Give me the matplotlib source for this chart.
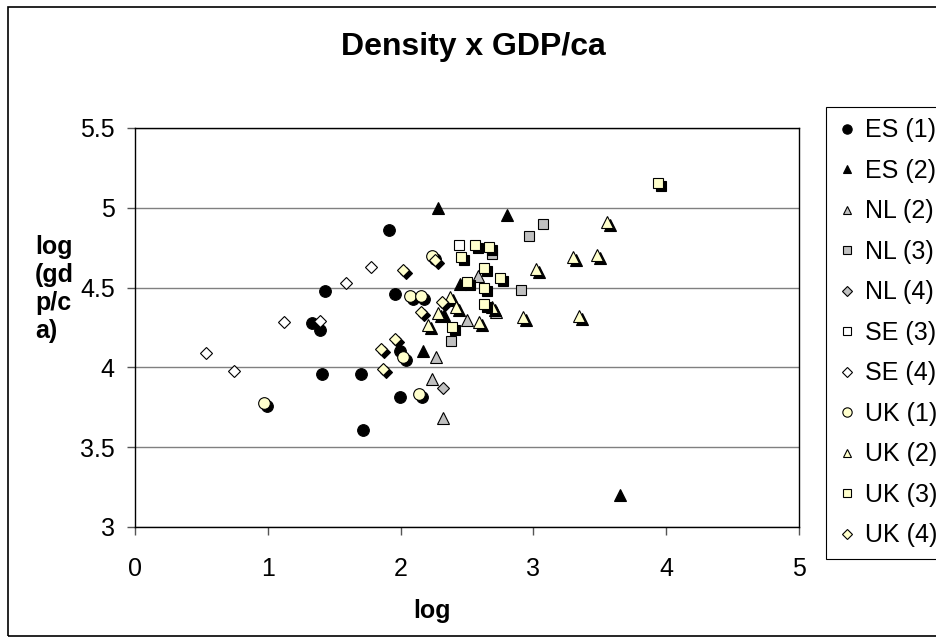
import matplotlib
matplotlib.use('Agg')
import matplotlib.pyplot as plt
from matplotlib.patches import Rectangle
from matplotlib.transforms import offset_copy

plt.rcParams['font.family'] = ['Liberation Sans', 'DejaVu Sans']

# --- data ---
es1_x = [1.91, 1.43, 1.96, 1.33, 1.39, 1.41, 1.70, 1.995, 1.995, 1.72]
es1_y = [4.86, 4.48, 4.46, 4.28, 4.234, 3.96, 3.96, 4.10, 3.816, 3.608]

es2_x = [2.28, 2.80, 2.45, 2.33, 2.17, 3.65]
es2_y = [5.00, 4.955, 4.52, 4.33, 4.105, 3.20]

nl2_x = [2.50, 2.585, 2.72, 2.27, 2.24, 2.32]
nl2_y = [4.30, 4.57, 4.35, 4.063, 3.925, 3.68]

nl3_x = [3.075, 2.97, 2.686, 2.905, 2.377]
nl3_y = [4.90, 4.823, 4.71, 4.485, 4.165]

nl4_x = [2.32]
nl4_y = [3.87]

se3_x = [2.44]
se3_y = [4.767]

se4_x = [0.532, 0.745, 1.124, 1.39, 1.587, 1.78]
se4_y = [4.088, 3.979, 4.286, 4.29, 4.527, 4.627]

uk1_x = [0.97, 2.07, 2.15, 2.02, 2.14, 2.24]
uk1_y = [3.775, 4.45, 4.45, 4.067, 3.835, 4.70]

uk2_x = [2.37, 2.417, 2.284, 2.21, 2.59, 2.686, 2.924, 3.02, 3.296, 3.476, 3.557, 3.346]
uk2_y = [4.443, 4.38, 4.34, 4.265, 4.286, 4.38, 4.318, 4.614, 4.69, 4.704, 4.913, 4.322]

uk3_x = [2.455, 2.56, 2.668, 2.628, 2.748, 2.498, 2.63, 2.63, 2.39, 3.94]
uk3_y = [4.694, 4.767, 4.757, 4.62, 4.562, 4.537, 4.496, 4.397, 4.255, 5.154]

uk4_x = [2.26, 2.02, 2.31, 2.15, 1.955, 1.85, 1.865]
uk4_y = [4.67, 4.61, 4.41, 4.35, 4.178, 4.115, 3.988]

x_ticks = [0, 1, 2, 3, 4, 5]
y_ticks = [3, 3.5, 4, 4.5, 5, 5.5]
y_tick_labels = ['3', '3.5', '4', '4.5', '5', '5.5']

YELLOW = '#FFFFCC'
GREY = '#C0C0C0'

# (label, x, y, marker, size, face colour, shadow)
series = [
    ('ES (1)', es1_x, es1_y, 'o', 8.4, 'black', False),
    ('ES (2)', es2_x, es2_y, '^', 8.0, 'black', False),
    ('NL (2)', nl2_x, nl2_y, '^', 8.0, GREY, False),
    ('NL (3)', nl3_x, nl3_y, 's', 7.7, GREY, False),
    ('NL (4)', nl4_x, nl4_y, 'D', 5.8, GREY, False),
    ('SE (3)', se3_x, se3_y, 's', 7.7, 'white', False),
    ('SE (4)', se4_x, se4_y, 'D', 5.8, 'white', False),
    ('UK (1)', uk1_x, uk1_y, 'o', 8.4, YELLOW, True),
    ('UK (2)', uk2_x, uk2_y, '^', 8.0, YELLOW, True),
    ('UK (3)', uk3_x, uk3_y, 's', 7.7, YELLOW, True),
    ('UK (4)', uk4_x, uk4_y, 'D', 5.8, YELLOW, True),
]

fig = plt.figure(figsize=(9.36, 6.43), dpi=100)
ax = fig.add_axes([135 / 936, 1 - 527 / 643, 664 / 936, 399 / 643])

# outer chart frame (right side runs off the picture)
fig.patches.append(Rectangle((8 / 936, 1 - 636 / 643), 1.0, 629 / 643,
                             transform=fig.transFigure, fill=False,
                             edgecolor='black', linewidth=1.2))

# Excel-style drop shadow for the UK series
shadow_tr = offset_copy(ax.transData, fig=fig, x=3, y=-3, units='dots')

handles = []
for label, xs, ys, mk, ms, fc, shadow in series:
    if shadow:
        ax.plot(xs, ys, ls='none', marker=mk, ms=ms, mfc='black', mec='black',
                mew=0.8, transform=shadow_tr, label='_nolegend_')
    h, = ax.plot(xs, ys, ls='none', marker=mk, ms=ms, mfc=fc, mec='black',
                 mew=0.8, label=label)
    handles.append(h)

ax.set_xlim(0, 5)
ax.set_ylim(3, 5.5)
ax.set_xticks(x_ticks)
ax.set_yticks(y_ticks)
ax.set_yticklabels(y_tick_labels)
ax.yaxis.grid(True, color='#808080', linewidth=1)
ax.set_axisbelow(True)
for sp in ax.spines.values():
    sp.set_color('black')
    sp.set_linewidth(1)
ax.tick_params(axis='both', direction='out', length=5.5, width=1,
               color='#555555', labelsize=18)
ax.tick_params(axis='x', pad=16)
ax.tick_params(axis='y', pad=9)

fig.text(473 / 936, 1 - 47 / 643, 'Density x GDP/ca', ha='center', va='center',
         fontsize=23, fontweight='bold')
fig.text(35 / 936, 1 - 289 / 643, 'log\n(gd\np/c\na)', ha='left', va='center',
         fontsize=18, fontweight='bold', linespacing=1.2)
fig.text(432 / 936, 1 - 611 / 643, 'log', ha='center', va='center',
         fontsize=18, fontweight='bold')

leg = ax.legend(handles=handles, loc='upper left',
                bbox_to_anchor=(826 / 936, 1 - 107 / 643),
                bbox_transform=fig.transFigure, frameon=True, fancybox=False,
                edgecolor='black', framealpha=1, borderpad=0.45,
                labelspacing=0.66, handlelength=0.8, handletextpad=0.3,
                borderaxespad=0, fontsize=18, markerscale=0.8)
leg.get_frame().set_linewidth(0.8)

fig.savefig('out.png', dpi=100)
